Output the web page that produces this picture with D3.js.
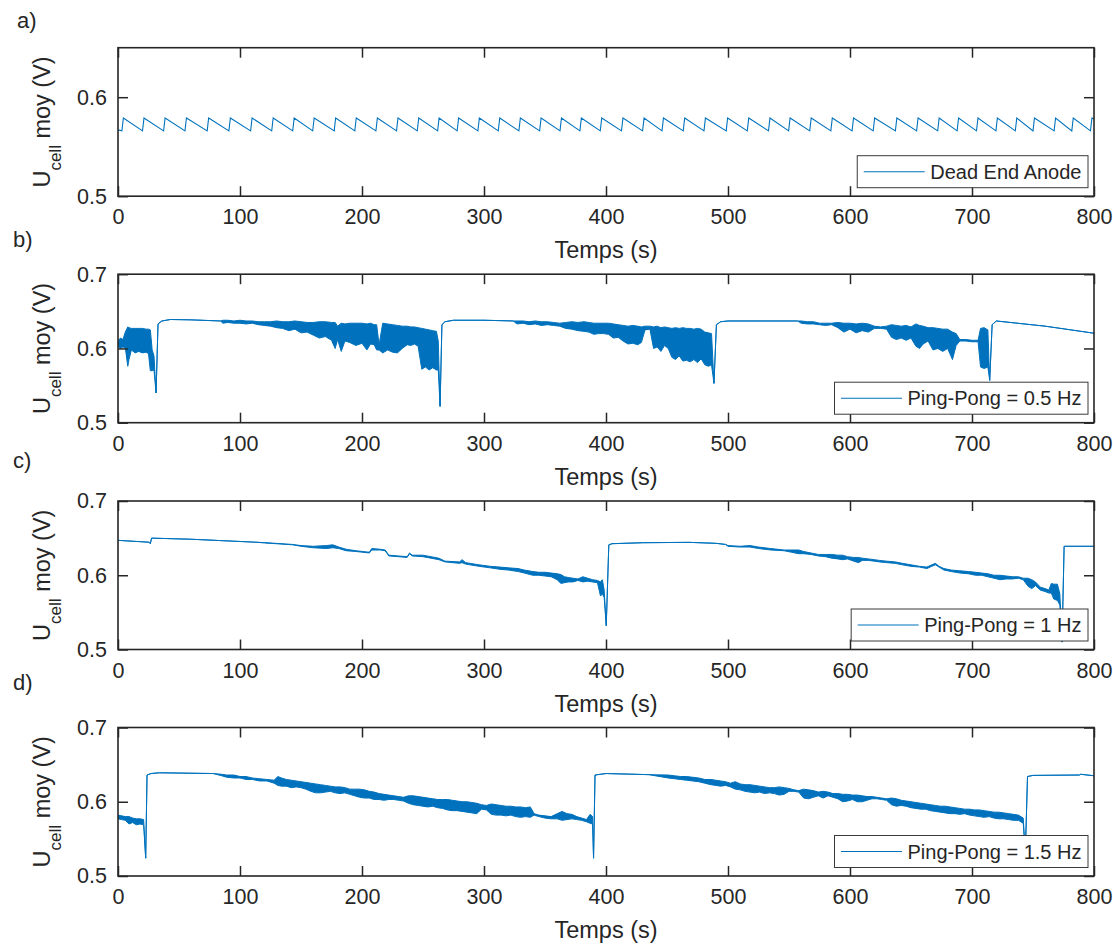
<!DOCTYPE html>
<html><head><meta charset="utf-8">
<script src="https://cdn.jsdelivr.net/npm/d3@7"></script>
<style>
html,body{margin:0;padding:0;background:#fff;}
text{font-family:"Liberation Sans",Arial,Helvetica,sans-serif;fill:#262626;}
</style></head>
<body>
<svg id="chart" width="1113" height="945"></svg>
<script>
// ---------- data ----------
const xTicks = [0,100,200,300,400,500,600,700,800];
const yTicksA = [0.5,0.6];
const yTicksB = [0.5,0.6,0.7];
const panelLetters = ["a)","b)","c)","d)"];
const legendNames = ["Dead End Anode","Ping-Pong = 0.5 Hz","Ping-Pong = 1 Hz","Ping-Pong = 1.5 Hz"];

// a) Dead End Anode : sawtooth vertices
const aTime = [0,3.2,4.4,20.1,21.3,37.4,38.6,54.9,56.1,73.1,74.3,90.9,92.1,108.7,109.9,126.0,127.2,143.2,144.4,159.6,160.8,177.2,178.4,194.1,195.3,211.4,212.6,228.3,229.5,245.3,246.5,262.0,263.2,278.0,279.2,295.0,296.2,311.7,312.9,328.6,329.8,345.6,346.8,362.3,363.5,378.6,379.8,395.3,396.5,412.7,413.9,430.0,431.2,445.9,447.1,463.3,464.5,480.3,481.5,498.5,499.7,515.8,517.0,533.2,534.4,549.7,550.9,567.0,568.2,584.3,585.5,601.7,602.9,619.0,620.2,637.2,638.4,654.6,655.8,671.9,673.1,687.8,689.0,703.7,704.9,719.6,720.8,735.5,736.7,750.0,751.2,767.3,768.5,781.8,783.0,797.1,798.3,800];
const aVolt = [0.567,0.566,0.579,0.566,0.579,0.566,0.579,0.566,0.579,0.566,0.579,0.566,0.579,0.566,0.579,0.566,0.579,0.566,0.579,0.566,0.579,0.566,0.579,0.566,0.579,0.566,0.579,0.566,0.579,0.566,0.579,0.566,0.579,0.566,0.579,0.566,0.579,0.566,0.579,0.566,0.579,0.566,0.579,0.566,0.579,0.566,0.579,0.566,0.579,0.566,0.579,0.566,0.579,0.566,0.579,0.566,0.579,0.566,0.579,0.566,0.579,0.566,0.579,0.566,0.579,0.566,0.579,0.566,0.579,0.566,0.579,0.566,0.579,0.566,0.579,0.566,0.579,0.566,0.579,0.566,0.579,0.566,0.579,0.566,0.579,0.566,0.579,0.566,0.579,0.566,0.579,0.566,0.579,0.566,0.579,0.566,0.579,0.578];

// b) Ping-Pong 0.5 Hz : envelope (high / low) of the signal
const bTime = [0,2,4,6,8,9,11,14,17,20,23,25,26.5,28,29.5,31.2,32.8,36,43,60,84,86,90,95,100,105,110,115,120,125,130,135,140,145,150,155,160,165,170,175,178,180,183,186,190,195,200,204,207,210,212,214,217,221,225,229,233,237,240,243,246,249,252,255,258,261,262.5,264,265.5,268,275,300,324,327,332,337,342,347,352,357,362,367,372,377,382,386,390,394,398,402,406,410,414,418,422,426,429,432,436,439,442,445,448,451,454,457,460,463,466,469,472,475,478,481,484,486.5,488.5,490.5,494,500,557,560,565,570,575,580,585,590,595,600,605,610,615,620,625,630,634,638,642,646,650,654,657,660,664,668,672,676,680,684,687,690,695,700,705,707,710,713,714.5,716.5,720,760,800];
const bHigh = [0.610,0.614,0.612,0.622,0.629,0.628,0.627,0.627,0.627,0.627,0.626,0.626,0.625,0.598,0.590,0.540,0.633,0.637,0.639,0.6385,0.637,0.638,0.638,0.637,0.638,0.637,0.637,0.636,0.636,0.636,0.637,0.636,0.636,0.637,0.636,0.635,0.635,0.636,0.636,0.635,0.635,0.630,0.634,0.633,0.634,0.634,0.634,0.633,0.634,0.632,0.632,0.605,0.634,0.633,0.632,0.631,0.630,0.630,0.629,0.629,0.628,0.627,0.626,0.625,0.624,0.623,0.610,0.522,0.632,0.636,0.638,0.638,0.637,0.637,0.637,0.636,0.637,0.636,0.636,0.635,0.634,0.635,0.636,0.635,0.636,0.635,0.634,0.634,0.634,0.634,0.633,0.632,0.631,0.630,0.631,0.630,0.629,0.630,0.630,0.629,0.630,0.628,0.629,0.628,0.627,0.628,0.627,0.628,0.627,0.627,0.626,0.627,0.626,0.622,0.621,0.620,0.553,0.632,0.636,0.637,0.637,0.637,0.636,0.636,0.634,0.634,0.634,0.635,0.634,0.634,0.633,0.634,0.633,0.630,0.629,0.630,0.632,0.631,0.630,0.631,0.629,0.633,0.631,0.630,0.628,0.628,0.627,0.626,0.626,0.622,0.620,0.612,0.612,0.611,0.611,0.627,0.628,0.625,0.557,0.632,0.637,0.630,0.6205];
const bLow  = [0.603,0.600,0.602,0.601,0.576,0.585,0.598,0.594,0.596,0.594,0.595,0.593,0.570,0.570,0.571,0.540,0.633,0.637,0.639,0.6385,0.637,0.634,0.635,0.634,0.634,0.633,0.634,0.632,0.631,0.630,0.628,0.627,0.624,0.626,0.621,0.622,0.618,0.614,0.616,0.611,0.600,0.612,0.596,0.610,0.608,0.604,0.607,0.598,0.606,0.605,0.598,0.598,0.594,0.598,0.595,0.594,0.600,0.605,0.604,0.606,0.603,0.572,0.575,0.571,0.574,0.571,0.571,0.522,0.632,0.636,0.638,0.638,0.637,0.633,0.634,0.632,0.633,0.631,0.632,0.631,0.630,0.627,0.626,0.624,0.623,0.622,0.619,0.620,0.620,0.619,0.614,0.615,0.610,0.606,0.607,0.605,0.608,0.625,0.626,0.600,0.602,0.596,0.604,0.600,0.588,0.585,0.590,0.583,0.584,0.582,0.585,0.581,0.586,0.578,0.576,0.578,0.553,0.632,0.636,0.637,0.637,0.634,0.633,0.633,0.632,0.631,0.632,0.628,0.622,0.626,0.621,0.624,0.622,0.627,0.627,0.626,0.615,0.612,0.614,0.611,0.614,0.603,0.600,0.606,0.610,0.598,0.600,0.596,0.600,0.585,0.604,0.610,0.610,0.609,0.609,0.575,0.573,0.575,0.557,0.632,0.637,0.630,0.6205];

// c) Ping-Pong 1 Hz
const cTime = [0,25.5,26.5,27.5,60,113,120,143,150,160,171,176,181,187,195,206,208,215,219,222,230,237,239,241,250,263,268,280,282,285,296,305,313,320,328,333,340,345,350,355,360,363,366,369,373,377,381,385,389,393,395.5,397,398.5,400.2,402.3,405,430,468,490,498,500,510,518,525,535,546,552,558,562,568,574,580,585,590,594,598,603,607,610,615,620,624,630,637,643,650,657,663,667,670,673,677,683,690,697,703,708,713,718,723,728,733,738,742,746,749,752,756,760,763,765,767,770,772,773.8,775.5,800];
const cHigh = [0.647,0.6445,0.6425,0.650,0.6485,0.6445,0.644,0.6415,0.640,0.639,0.640,0.641,0.638,0.635,0.633,0.631,0.636,0.635,0.634,0.627,0.626,0.625,0.630,0.627,0.627,0.623,0.619,0.618,0.621,0.617,0.614,0.612,0.611,0.610,0.609,0.607,0.605,0.604,0.604,0.603,0.602,0.601,0.598,0.597,0.596,0.595,0.598,0.596,0.594,0.593,0.591,0.594,0.580,0.532,0.641,0.6425,0.6438,0.6443,0.643,0.6415,0.640,0.639,0.640,0.638,0.636,0.634,0.634,0.634,0.632,0.630,0.628,0.628,0.628,0.627,0.627,0.625,0.624,0.624,0.623,0.622,0.621,0.620,0.619,0.618,0.616,0.614,0.612,0.611,0.614,0.616,0.612,0.609,0.607,0.606,0.605,0.604,0.603,0.602,0.600,0.600,0.599,0.598,0.598,0.596,0.596,0.594,0.591,0.584,0.582,0.580,0.589,0.588,0.588,0.575,0.510,0.639,0.639];
const cLow  = [0.647,0.6445,0.6425,0.650,0.6485,0.6445,0.6435,0.641,0.639,0.637,0.636,0.637,0.636,0.633,0.632,0.630,0.634,0.634,0.633,0.626,0.625,0.624,0.629,0.626,0.625,0.621,0.618,0.616,0.617,0.615,0.612,0.610,0.608,0.607,0.605,0.603,0.600,0.600,0.599,0.598,0.594,0.589,0.590,0.591,0.591,0.593,0.591,0.592,0.591,0.590,0.572,0.575,0.570,0.532,0.641,0.6425,0.6438,0.6443,0.643,0.6415,0.639,0.638,0.638,0.636,0.634,0.633,0.631,0.629,0.629,0.628,0.626,0.625,0.623,0.622,0.621,0.622,0.619,0.617,0.620,0.620,0.619,0.618,0.617,0.616,0.614,0.612,0.611,0.609,0.612,0.614,0.611,0.607,0.605,0.603,0.602,0.600,0.600,0.598,0.596,0.594,0.595,0.595,0.596,0.594,0.585,0.582,0.586,0.580,0.578,0.576,0.576,0.568,0.566,0.560,0.510,0.639,0.639];

// d) Ping-Pong 1.5 Hz
const dTime = [0,3,6,9,12,15,18,21,22.7,23.8,27,34,78,85,89,95,100,105,110,116,122,128,131,134,138,142,146,150,154,158,162,166,170,174,178,182,186,190,194,198,202,206,210,214,218,222,226,230,234,238,242,246,250,254,258,262,266,270,274,278,282,286,290,294,298,302,306,310,314,318,322,326,330,334,338,341,345,350,355,360,364,368,372,376,380,384,387,389,389.8,391,400,435,451,456,461,466,471,476,481,486,490,494,498,502,506,510,514,518,522,526,530,534,538,542,546,550,554,558,562,566,570,574,578,582,586,590,594,598,602,606,610,614,618,622,626,630,634,638,642,646,650,654,658,662,666,670,674,678,682,686,690,694,698,702,706,710,714,718,722,726,730,734,738,742,743.7,745.5,750,788,789,800];
const dHigh = [0.582,0.581,0.580,0.580,0.578,0.577,0.577,0.576,0.524,0.636,0.638,0.639,0.638,0.637,0.636,0.636,0.634,0.634,0.632,0.631,0.630,0.629,0.634,0.632,0.630,0.629,0.628,0.627,0.626,0.625,0.624,0.623,0.622,0.621,0.620,0.620,0.619,0.617,0.617,0.617,0.616,0.614,0.613,0.611,0.610,0.609,0.608,0.607,0.606,0.608,0.608,0.607,0.606,0.605,0.604,0.603,0.603,0.603,0.602,0.601,0.600,0.600,0.599,0.598,0.596,0.595,0.597,0.596,0.595,0.594,0.594,0.593,0.593,0.592,0.593,0.584,0.582,0.581,0.580,0.584,0.587,0.584,0.583,0.580,0.578,0.576,0.583,0.580,0.524,0.636,0.638,0.6365,0.636,0.635,0.634,0.634,0.633,0.632,0.630,0.630,0.629,0.628,0.627,0.625,0.627,0.624,0.623,0.623,0.622,0.621,0.620,0.619,0.619,0.620,0.619,0.618,0.616,0.615,0.617,0.616,0.615,0.613,0.614,0.613,0.611,0.611,0.610,0.610,0.609,0.609,0.608,0.607,0.607,0.606,0.605,0.604,0.605,0.604,0.602,0.601,0.600,0.599,0.598,0.597,0.596,0.595,0.594,0.594,0.593,0.592,0.591,0.590,0.590,0.589,0.589,0.588,0.587,0.586,0.586,0.585,0.584,0.583,0.582,0.578,0.530,0.634,0.6355,0.636,0.637,0.635];
const dLow  = [0.577,0.576,0.575,0.570,0.572,0.569,0.570,0.569,0.524,0.636,0.638,0.639,0.638,0.635,0.633,0.632,0.632,0.630,0.630,0.628,0.628,0.625,0.622,0.621,0.621,0.619,0.620,0.619,0.617,0.614,0.612,0.612,0.613,0.614,0.612,0.611,0.612,0.610,0.608,0.606,0.605,0.605,0.603,0.603,0.602,0.603,0.603,0.602,0.601,0.598,0.596,0.595,0.594,0.593,0.594,0.592,0.591,0.589,0.588,0.588,0.587,0.586,0.585,0.584,0.590,0.589,0.583,0.582,0.582,0.581,0.582,0.580,0.579,0.580,0.579,0.582,0.580,0.578,0.577,0.577,0.575,0.576,0.577,0.576,0.575,0.573,0.571,0.570,0.524,0.636,0.638,0.6365,0.632,0.631,0.630,0.629,0.628,0.627,0.625,0.623,0.622,0.621,0.622,0.620,0.617,0.616,0.614,0.613,0.612,0.613,0.611,0.612,0.611,0.609,0.610,0.614,0.614,0.613,0.605,0.604,0.606,0.608,0.605,0.608,0.606,0.604,0.600,0.601,0.603,0.600,0.600,0.602,0.604,0.604,0.603,0.602,0.596,0.594,0.595,0.594,0.592,0.591,0.590,0.590,0.588,0.587,0.586,0.585,0.584,0.584,0.583,0.584,0.582,0.581,0.580,0.579,0.580,0.578,0.577,0.577,0.576,0.575,0.575,0.571,0.530,0.634,0.6355,0.636,0.637,0.635];

// ---------- layout ----------
const svg = d3.select("#chart");
const plotLeft = 118, plotRight = 1094, plotH = 148.5;
const panelTops = [47.7, 274.2, 501, 727.5];
const lineColor = "#0072BD", axisColor = "#262626";
const fontTick = 21.5, fontLabel = 23.5, fontLegend = 20;

const x = d3.scaleLinear().domain([0,800]).range([plotLeft, plotRight]);

const panels = [
  {dom:[0.5,0.65], ticks:yTicksA, kind:"line", t:aTime, v:aVolt},
  {dom:[0.5,0.7], ticks:yTicksB, kind:"band", t:bTime, hi:bHigh, lo:bLow},
  {dom:[0.5,0.7], ticks:yTicksB, kind:"band", t:cTime, hi:cHigh, lo:cLow},
  {dom:[0.5,0.7], ticks:yTicksB, kind:"band", t:dTime, hi:dHigh, lo:dLow}
];

panels.forEach((p, i) => {
  const top = panelTops[i], bottom = top + plotH;
  const y = d3.scaleLinear().domain(p.dom).range([bottom, top]);
  const g = svg.append("g");

  const clipId = "clip" + i;
  g.append("clipPath").attr("id", clipId).append("rect")
    .attr("x", plotLeft).attr("y", top).attr("width", plotRight - plotLeft).attr("height", plotH);

  const dataG = g.append("g").attr("clip-path", `url(#${clipId})`);
  if (p.kind === "line") {
    const pts = p.t.map((t, k) => [t, p.v[k]]);
    dataG.append("path").datum(pts)
      .attr("fill", "none").attr("stroke", lineColor).attr("stroke-width", 1.1)
      .attr("d", d3.line().x(d => x(d[0])).y(d => y(d[1])));
  } else {
    const pts = p.t.map((t, k) => ({t, hi:p.hi[k], lo:p.lo[k]}));
    dataG.append("path").datum(pts)
      .attr("fill", lineColor).attr("stroke", lineColor).attr("stroke-width", 1)
      .attr("stroke-linejoin", "round")
      .attr("d", d3.area().x(d => x(d.t)).y0(d => y(d.lo)).y1(d => y(d.hi)));
  }

  // axes with inward ticks
  const styleAxis = (sel) => {
    sel.select(".domain").remove();
    sel.selectAll(".tick line").attr("stroke", axisColor).attr("stroke-width", 1.5);
    sel.selectAll(".tick text").attr("fill", axisColor)
      .style("font-family", '"Liberation Sans",Arial,sans-serif').style("font-size", fontTick + "px");
  };
  g.append("g").attr("transform", `translate(0,${bottom})`)
    .call(d3.axisBottom(x).tickValues(xTicks).tickSize(-10).tickPadding(13).tickFormat(d3.format("d")))
    .call(styleAxis);
  g.append("g").attr("transform", `translate(0,${top})`)
    .call(d3.axisTop(x).tickValues(xTicks).tickSize(-10).tickFormat(""))
    .call(styleAxis);
  g.append("g").attr("transform", `translate(${plotLeft},0)`)
    .call(d3.axisLeft(y).tickValues(p.ticks).tickSize(-10).tickPadding(11).tickFormat(d3.format(".1f")))
    .call(styleAxis);
  g.append("g").attr("transform", `translate(${plotRight},0)`)
    .call(d3.axisRight(y).tickValues(p.ticks).tickSize(-10).tickFormat(""))
    .call(styleAxis);

  g.append("rect").attr("x", plotLeft).attr("y", top)
    .attr("width", plotRight - plotLeft).attr("height", plotH)
    .attr("fill", "none").attr("stroke", axisColor).attr("stroke-width", 1.6);

  // x label
  g.append("text").attr("x", (plotLeft + plotRight) / 2).attr("y", bottom + 62)
    .attr("text-anchor", "middle").style("font-size", fontLabel + "px").text("Temps (s)");

  // y label with subscript
  const yl = g.append("text")
    .attr("transform", `translate(50,${(top + bottom) / 2}) rotate(-90)`)
    .attr("text-anchor", "middle").style("font-size", fontLabel + "px");
  yl.append("tspan").text("U");
  yl.append("tspan").attr("dy", 11).style("font-size", "17px").text("cell");
  yl.append("tspan").attr("dy", -11).text(" moy (V)");

  // panel letter
  g.append("text").attr("x", i === 0 ? 17 : 13).attr("y", [28, 247, 468, 690][i])
    .style("font-size", "22px").text(panelLetters[i]);

  // legend
  const lg = g.append("g");
  const txt = lg.append("text").style("font-size", fontLegend + "px").text(legendNames[i]);
  const tw = txt.node().getComputedTextLength();
  const boxW = 6.5 + 61 + 5.5 + tw + 6.5, boxH = 32;
  const bx = plotRight - 6 - boxW, by = bottom - 8.5 - boxH;
  lg.insert("rect", "text").attr("x", bx).attr("y", by).attr("width", boxW).attr("height", boxH)
    .attr("fill", "#fff").attr("stroke", "#3a3a3a").attr("stroke-width", 1);
  lg.append("line").attr("x1", bx + 6.5).attr("x2", bx + 67.5)
    .attr("y1", by + boxH / 2).attr("y2", by + boxH / 2)
    .attr("stroke", lineColor).attr("stroke-width", 1.1);
  txt.attr("x", bx + 73).attr("y", by + boxH / 2 + 7);
});
</script>
</body></html>
